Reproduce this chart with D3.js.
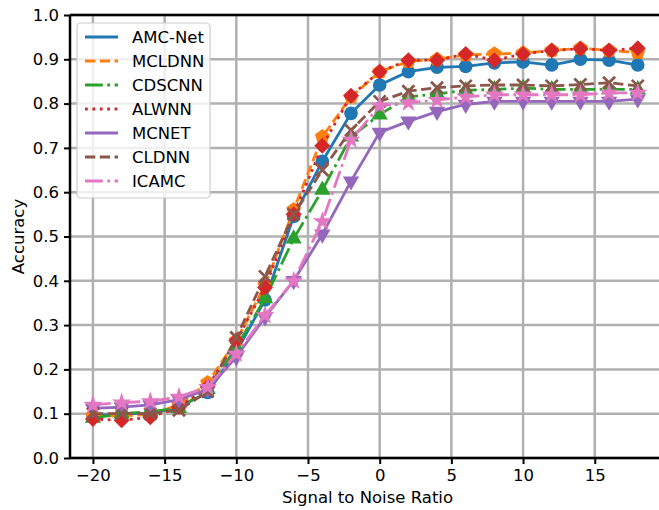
<!DOCTYPE html>
<html>
<head>
<meta charset="utf-8">
<script src="https://cdn.jsdelivr.net/npm/d3@7"></script>
<style>
  body { margin: 0; background: #fff; }
  svg { display: block; font-family: "DejaVu Sans", sans-serif; }
</style>
</head>
<body>
<div id="chart"></div>
<script>
// data
var snr = [-20, -18, -16, -14, -12, -10, -8, -6, -4, -2, 0, 2, 4, 6, 8, 10, 12, 14, 16, 18];
var names = ['AMC-Net', 'MCLDNN', 'CDSCNN', 'ALWNN', 'MCNET', 'CLDNN', 'ICAMC'];
var amcNet = [0.095, 0.10, 0.10, 0.115, 0.148, 0.24, 0.357, 0.545, 0.67, 0.778, 0.842, 0.872, 0.882, 0.884, 0.892, 0.894, 0.887, 0.90, 0.898, 0.887];
var mcldnn = [0.095, 0.095, 0.098, 0.12, 0.17, 0.265, 0.39, 0.56, 0.725, 0.815, 0.872, 0.895, 0.90, 0.91, 0.912, 0.914, 0.92, 0.925, 0.92, 0.915];
var cdscnn = [0.09, 0.10, 0.105, 0.112, 0.155, 0.25, 0.36, 0.495, 0.605, 0.725, 0.775, 0.815, 0.822, 0.83, 0.832, 0.835, 0.832, 0.832, 0.832, 0.832];
var alwnn = [0.088, 0.085, 0.092, 0.115, 0.16, 0.265, 0.385, 0.55, 0.705, 0.818, 0.872, 0.898, 0.898, 0.912, 0.898, 0.912, 0.92, 0.924, 0.92, 0.925];
var mcnet = [0.112, 0.115, 0.12, 0.132, 0.155, 0.228, 0.318, 0.40, 0.505, 0.625, 0.735, 0.76, 0.782, 0.798, 0.805, 0.805, 0.805, 0.805, 0.805, 0.81];
var cldnn = [0.10, 0.10, 0.10, 0.108, 0.15, 0.272, 0.41, 0.55, 0.65, 0.74, 0.805, 0.828, 0.836, 0.84, 0.842, 0.842, 0.84, 0.843, 0.847, 0.84];
var icamc = [0.12, 0.125, 0.128, 0.138, 0.16, 0.235, 0.322, 0.40, 0.534, 0.718, 0.795, 0.802, 0.808, 0.815, 0.82, 0.82, 0.82, 0.82, 0.824, 0.824];
var xTicks = [-20, -15, -10, -5, 0, 5, 10, 15];
var yTicks = [0, 0.1, 0.2, 0.3, 0.4, 0.5, 0.6, 0.7, 0.8, 0.9, 1.0];

var colors = ['#1f77b4', '#ff7f0e', '#2ca02c', '#d62728', '#9467bd', '#8c564b', '#e377c2'];
// matplotlib style dashes scaled to line width
var dashes = [null, '10.3,4.5', '17.8,4.5,2.8,4.5', '2.8,4.6', null, '10.3,4.5', '17.8,4.5,2.8,4.5'];
var markers = ['circle', 'pentagon', 'triangle', 'diamond', 'tridown', 'x', 'star'];
var allSeries = [amcNet, mcldnn, cdscnn, alwnn, mcnet, cldnn, icamc];

var W = 659, H = 510;
var pLeft = 70, pTop = 15, pRight = 665, pBottom = 458;
var fs = 16.5;
var lw = 2.8;

var svg = d3.select('#chart').append('svg')
    .attr('width', W).attr('height', H);

var x = d3.scaleLinear().domain([-21.6, 19.9]).range([pLeft, pRight]);
var y = d3.scaleLinear().domain([0, 1]).range([pBottom, pTop]);

// grid
var grid = svg.append('g');
grid.selectAll('.gx').data(xTicks).enter().append('line')
    .attr('x1', d => x(d)).attr('x2', d => x(d))
    .attr('y1', pTop).attr('y2', pBottom)
    .attr('stroke', '#b0b0b0').attr('stroke-width', 2.5);
grid.selectAll('.gy').data(yTicks).enter().append('line')
    .attr('x1', pLeft).attr('x2', pRight)
    .attr('y1', d => y(d)).attr('y2', d => y(d))
    .attr('stroke', '#b0b0b0').attr('stroke-width', 2.5);

// marker shapes
function pentagon(s) {
    var pts = [];
    for (var i = 0; i < 5; i++) {
        var a = -Math.PI / 2 + i * 2 * Math.PI / 5;
        pts.push([s * Math.cos(a), s * Math.sin(a)]);
    }
    return 'M' + pts.join('L') + 'Z';
}
function markerPath(type) {
    if (type === 'circle') return d3.symbol(d3.symbolCircle, 145)();
    if (type === 'pentagon') return pentagon(7.8);
    if (type === 'triangle') return d3.symbol(d3.symbolTriangle, 115)();
    if (type === 'tridown') return d3.symbol(d3.symbolTriangle, 115)();
    if (type === 'diamond') return 'M0,-8L8,0L0,8L-8,0Z';
    if (type === 'star') return d3.symbol(d3.symbolStar, 115)();
    if (type === 'x') return 'M-6,-6L6,6M-6,6L6,-6';
}

var line = d3.line().x((d, i) => x(snr[i])).y(d => y(d));

var plot = svg.append('g');
allSeries.forEach(function (vals, k) {
    var g = plot.append('g');
    g.append('path')
        .attr('d', line(vals))
        .attr('fill', 'none')
        .attr('stroke', colors[k])
        .attr('stroke-width', lw)
        .attr('stroke-dasharray', dashes[k]);
    g.selectAll('.m').data(vals).enter().append('path')
        .attr('d', markerPath(markers[k]))
        .attr('transform', function (d, i) {
            var t = 'translate(' + x(snr[i]) + ',' + y(d) + ')';
            if (markers[k] === 'tridown') t += ' rotate(180)';
            return t;
        })
        .attr('fill', markers[k] === 'x' ? 'none' : colors[k])
        .attr('stroke', colors[k])
        .attr('stroke-width', markers[k] === 'x' ? 2.8 : 0);
});

// spines
svg.append('line').attr('x1', pLeft).attr('x2', pLeft).attr('y1', pTop).attr('y2', pBottom)
    .attr('stroke', '#000').attr('stroke-width', 2.5);
svg.append('line').attr('x1', pLeft).attr('x2', pRight).attr('y1', pTop).attr('y2', pTop)
    .attr('stroke', '#000').attr('stroke-width', 2.5);
svg.append('line').attr('x1', pLeft).attr('x2', pRight).attr('y1', pBottom).attr('y2', pBottom)
    .attr('stroke', '#000').attr('stroke-width', 2.5);

// axes
var xAxis = svg.append('g').attr('transform', 'translate(0,' + pBottom + ')')
    .call(d3.axisBottom(x).tickValues(xTicks).tickSize(6).tickPadding(5)
        .tickFormat(d => d < 0 ? '\u2212' + Math.abs(d) : d));
var yAxis = svg.append('g').attr('transform', 'translate(' + pLeft + ',0)')
    .call(d3.axisLeft(y).tickValues(yTicks).tickSize(6).tickPadding(5).tickFormat(d3.format('.1f')));
[xAxis, yAxis].forEach(function (a) {
    a.select('.domain').remove();
    a.selectAll('.tick line').attr('stroke', '#000').attr('stroke-width', 2);
    a.selectAll('.tick text').attr('font-size', fs).attr('fill', '#000')
        .style('font-family', '"DejaVu Sans", sans-serif');
});

svg.append('text').attr('x', (pLeft + pRight) / 2).attr('y', 503)
    .attr('text-anchor', 'middle').attr('font-size', fs).text('Signal to Noise Ratio');
svg.append('text').attr('transform', 'translate(24,' + ((pTop + pBottom) / 2) + ') rotate(-90)')
    .attr('text-anchor', 'middle').attr('font-size', fs).text('Accuracy');

// legend
var lg = svg.append('g');
lg.append('rect').attr('x', 77).attr('y', 23).attr('width', 133).attr('height', 175)
    .attr('rx', 4).attr('fill', '#fff').attr('fill-opacity', 0.8)
    .attr('stroke', '#cccccc').attr('stroke-width', 1.2);
names.forEach(function (n, k) {
    var yy = 37 + k * 24;
    lg.append('line').attr('x1', 85).attr('x2', 118).attr('y1', yy).attr('y2', yy)
        .attr('stroke', colors[k]).attr('stroke-width', lw)
        .attr('stroke-dasharray', dashes[k]);
    lg.append('text').attr('x', 132).attr('y', yy + 6).attr('font-size', fs).text(n);
});
</script>
</body>
</html>
